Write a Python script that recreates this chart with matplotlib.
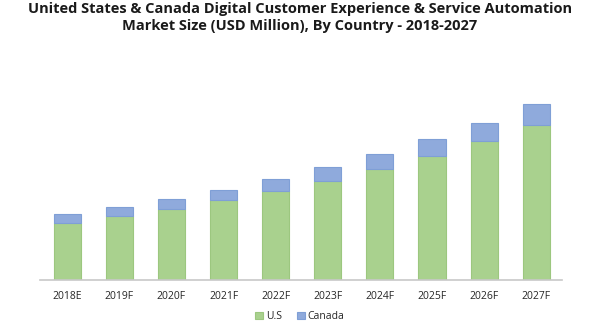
import matplotlib.pyplot as plt

# data (estimated from the chart, arbitrary units)
years = ['2018E', '2019F', '2020F', '2021F', '2022F', '2023F', '2024F', '2025F', '2026F', '2027F']
us = [57, 64, 71, 80, 89, 99, 111, 124, 139, 155]
canada = [9, 9, 10, 10, 12, 14, 15, 17, 18, 21]

plt.rcParams['font.family'] = ['Open Sans', 'DejaVu Sans']

fig = plt.figure(figsize=(6, 3.25), dpi=100)
ax = fig.add_axes([0.067, 45 / 325, 0.87, 230 / 325])

x = range(len(years))
ax.bar(x, us, width=0.52, color='#a9d18e', edgecolor='#9cc77f', linewidth=0.8, label='U.S')
ax.bar(x, canada, width=0.52, bottom=us, color='#8faadc', edgecolor='#7f9fd6', linewidth=0.8, label='Canada')

ax.set_xlim(-0.52, 9.5)
ax.set_ylim(0, 230)
ax.set_xticks(list(x))
ax.set_xticklabels(years, fontsize=7.5, color='#262626')
ax.tick_params(axis='x', length=0, pad=8)
ax.set_yticks([])
for s in ['top', 'right', 'left']:
    ax.spines[s].set_visible(False)
ax.spines['bottom'].set_color('#c8c8c8')
ax.spines['bottom'].set_linewidth(1.2)

fig.suptitle('United States & Canada Digital Customer Experience & Service Automation\n'
             'Market Size (USD Million), By Country - 2018-2027',
             fontsize=10.5, fontweight='bold', color='#1a1a1a', y=0.995, linespacing=1.35)

fig.legend(loc='lower center', bbox_to_anchor=(0.5, -0.02), ncol=2, frameon=False,
           fontsize=7.5, handlelength=0.7, handleheight=0.7, handletextpad=0.3,
           columnspacing=1.5, labelcolor='#262626')

fig.savefig('out.png', dpi=100)
